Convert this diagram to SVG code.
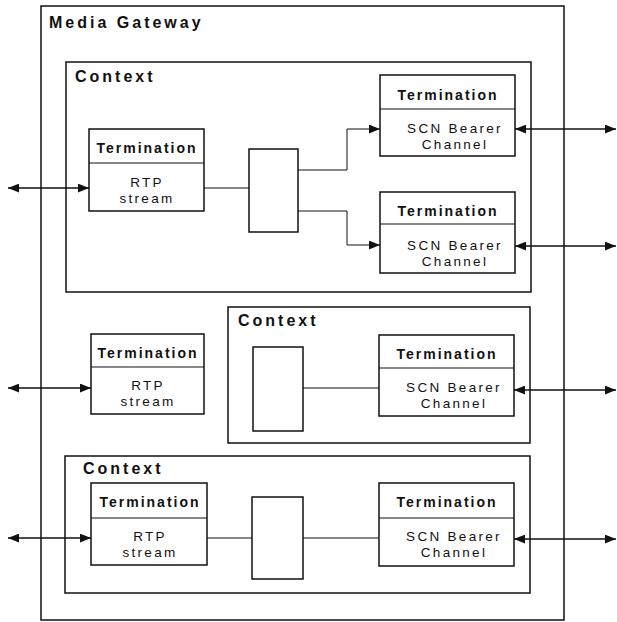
<svg xmlns="http://www.w3.org/2000/svg" width="617" height="622" viewBox="0 0 617 622">
  <defs>
    <marker id="arrow" viewBox="0 0 10 8" refX="10" refY="4" markerWidth="11" markerHeight="9" markerUnits="userSpaceOnUse" orient="auto-start-reverse">
      <path d="M0,0 L10,4 L0,8 z" fill="#111"/>
    </marker>
    <style>
      .frame { fill: none; stroke: #111; stroke-width: 1.5; }
      .box { fill: #fff; stroke: #111; stroke-width: 1.5; }
      .div { stroke: #111; stroke-width: 1.2; }
      .title { font-family: "Liberation Sans", Arial, sans-serif; font-weight: bold; font-size: 16px; letter-spacing: 3px; fill: #111; }
      .head { font-family: "Liberation Sans", Arial, sans-serif; font-weight: bold; font-size: 14px; letter-spacing: 2px; fill: #111; text-anchor: middle; }
      .body { font-family: "Liberation Sans", Arial, sans-serif; font-size: 13.5px; letter-spacing: 2.3px; fill: #111; text-anchor: middle; }
      .link { fill: none; stroke: #111; stroke-width: 1; }
      .ext { fill: none; stroke: #111; stroke-width: 1.6; marker-start: url(#arrow); marker-end: url(#arrow); }
      .in { fill: none; stroke: #111; stroke-width: 1; marker-end: url(#arrow); }
    </style>
  </defs>

  <!-- gateway and contexts -->
  <g id="media-gateway">
    <rect class="frame" x="41" y="6" width="523" height="614"/>
    <text class="title" x="49" y="28">Media Gateway</text>
  </g>
  <g id="context-1">
    <rect class="frame" x="66" y="62" width="465" height="230"/>
    <text class="title" x="75" y="82">Context</text>
  </g>
  <g id="context-2">
    <rect class="frame" x="228" y="307" width="302" height="136"/>
    <text class="title" x="238" y="326">Context</text>
  </g>
  <g id="context-3">
    <rect class="frame" x="65" y="456" width="465" height="137"/>
    <text class="title" x="83" y="474">Context</text>
  </g>

  <!-- connectors -->
  <g id="connectors">
    <line class="ext" x1="8" y1="188" x2="89" y2="188"/>
    <line class="ext" x1="515" y1="129" x2="616" y2="129"/>
    <line class="ext" x1="515" y1="246" x2="616" y2="246"/>
    <line class="ext" x1="8" y1="388" x2="91" y2="388"/>
    <line class="ext" x1="514" y1="390" x2="616" y2="390"/>
    <line class="ext" x1="8" y1="538" x2="91" y2="538"/>
    <line class="ext" x1="514" y1="539" x2="616" y2="539"/>
    <line class="link" x1="204" y1="188" x2="249" y2="188"/>
    <path class="in" d="M298,170 H347 V129 H380"/>
    <path class="in" d="M298,211 H347 V245 H380"/>
    <line class="link" x1="303" y1="388" x2="379" y2="388"/>
    <line class="link" x1="207" y1="538" x2="252" y2="538"/>
    <line class="link" x1="303" y1="538" x2="379" y2="538"/>
  </g>

  <!-- context 1 -->
  <g id="term-rtp-1">
    <rect class="box" x="89" y="129" width="115" height="82"/>
    <line class="div" x1="89" y1="163" x2="204" y2="163"/>
    <text class="head" x="147" y="153">Termination</text>
    <text class="body" x="147" y="187">RTP</text>
    <text class="body" x="147" y="203">stream</text>
  </g>
  <g id="bridge-1">
    <rect class="box" x="249" y="149" width="49" height="83"/>
  </g>
  <g id="term-scn-1">
    <rect class="box" x="380" y="75" width="135" height="81"/>
    <line class="div" x1="380" y1="109" x2="515" y2="109"/>
    <text class="head" x="448" y="100">Termination</text>
    <text class="body" x="455" y="133">SCN Bearer</text>
    <text class="body" x="455" y="149">Channel</text>
  </g>
  <g id="term-scn-2">
    <rect class="box" x="380" y="192" width="135" height="81"/>
    <line class="div" x1="380" y1="224" x2="515" y2="224"/>
    <text class="head" x="448" y="216">Termination</text>
    <text class="body" x="455" y="250">SCN Bearer</text>
    <text class="body" x="455" y="266">Channel</text>
  </g>

  <!-- standalone termination and context 2 -->
  <g id="term-rtp-2">
    <rect class="box" x="91" y="334" width="113" height="80"/>
    <line class="div" x1="91" y1="367" x2="204" y2="367"/>
    <text class="head" x="148" y="358">Termination</text>
    <text class="body" x="148" y="390">RTP</text>
    <text class="body" x="148" y="406">stream</text>
  </g>
  <g id="bridge-2">
    <rect class="box" x="253" y="347" width="50" height="84"/>
  </g>
  <g id="term-scn-3">
    <rect class="box" x="379" y="335" width="135" height="81"/>
    <line class="div" x1="379" y1="368" x2="514" y2="368"/>
    <text class="head" x="447" y="359">Termination</text>
    <text class="body" x="454" y="392">SCN Bearer</text>
    <text class="body" x="454" y="408">Channel</text>
  </g>

  <!-- context 3 -->
  <g id="term-rtp-3">
    <rect class="box" x="91" y="483" width="116" height="82"/>
    <line class="div" x1="91" y1="518" x2="207" y2="518"/>
    <text class="head" x="150" y="507">Termination</text>
    <text class="body" x="150" y="541">RTP</text>
    <text class="body" x="150" y="557">stream</text>
  </g>
  <g id="bridge-3">
    <rect class="box" x="252" y="497" width="51" height="82"/>
  </g>
  <g id="term-scn-4">
    <rect class="box" x="379" y="483" width="135" height="83"/>
    <line class="div" x1="379" y1="518" x2="514" y2="518"/>
    <text class="head" x="447" y="507">Termination</text>
    <text class="body" x="454" y="541">SCN Bearer</text>
    <text class="body" x="454" y="557">Channel</text>
  </g>
</svg>
